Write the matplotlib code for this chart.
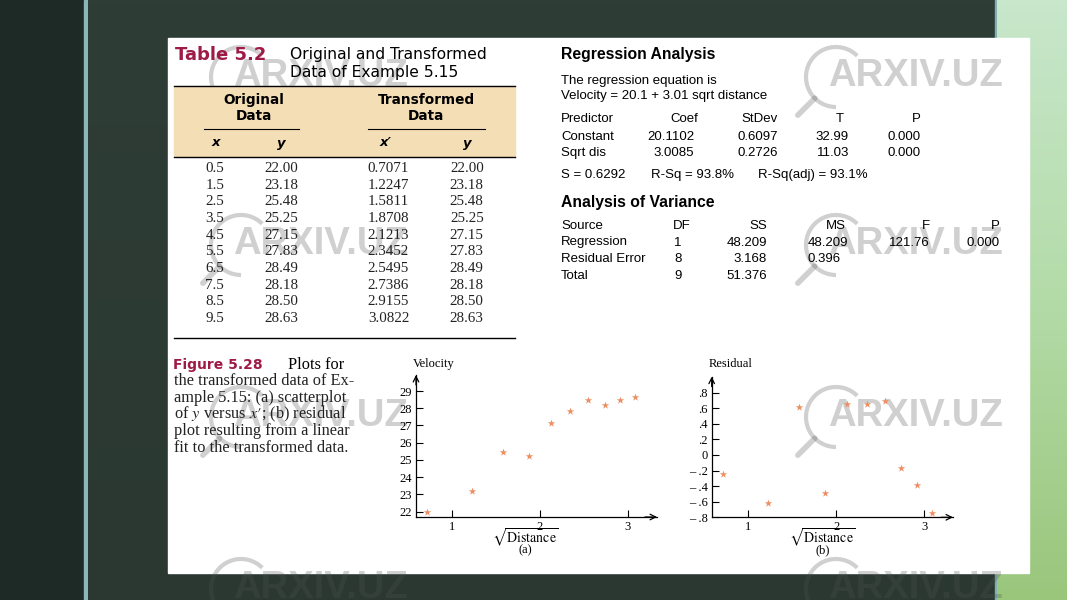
import matplotlib
matplotlib.use('Agg')
import matplotlib.pyplot as plt
import numpy as np
from matplotlib.patches import Rectangle, Arc

plt.rcParams['mathtext.fontset'] = 'stix'

# Table 5.2 data
x_orig = [0.5, 1.5, 2.5, 3.5, 4.5, 5.5, 6.5, 7.5, 8.5, 9.5]
y_vel = [22.00, 23.18, 25.48, 25.25, 27.15, 27.83, 28.49, 28.18, 28.50, 28.63]
x_sqrt = [0.7071, 1.2247, 1.5811, 1.8708, 2.1213, 2.3452, 2.5495, 2.7386, 2.9155, 3.0822]
# residuals (b)
residuals = [-0.24, -0.62, 0.61, -0.49, 0.66, 0.66, 0.69, -0.17, -0.38, -0.75]

# regression output
predictors = ['Constant', 'Sqrt dis']
coef = [20.1102, 3.0085]
stdev = [0.6097, 0.2726]
t_val = [32.99, 11.03]
p_val = [0.000, 0.000]

anova_source = ['Regression', 'Residual Error', 'Total']
anova_df = [1, 8, 9]
anova_ss = [48.209, 3.168, 51.376]
anova_ms = [48.209, 0.396]
anova_f = 121.76
anova_p = 0.000

vel_ticks = [22, 23, 24, 25, 26, 27, 28, 29]
res_ticks = [-0.8, -0.6, -0.4, -0.2, 0, 0.2, 0.4, 0.6, 0.8]
res_labels = ['\u2013 .8', '\u2013 .6', '\u2013 .4', '\u2013 .2', '0', '.2', '.4', '.6', '.8']

W, H = 1067, 600
MAROON = '#9e1a47'
SERIF = 'Liberation Serif'
SANS = 'Liberation Sans'
GEO = 'DejaVu Sans'

fig = plt.figure(figsize=(W / 100, H / 100), dpi=100)
bg = fig.add_axes([0, 0, 1, 1])
bg.axis('off')

# slide background
bg.add_patch(Rectangle((0, 0), 84, H, color='#1e2a26', zorder=0))
bg.add_patch(Rectangle((84, 0), 4, H, color='#8cb7ba', zorder=0))
grad = np.linspace(0, 1, 100).reshape(-1, 1)
dark = matplotlib.colors.LinearSegmentedColormap.from_list('d', ['#2f3d37', '#2b3832'])
bg.imshow(grad, cmap=dark, extent=[88, 995, H, 0], aspect='auto', zorder=0)
bg.add_patch(Rectangle((995, 0), 2, H, color='#7fb0ae', zorder=0))
green = matplotlib.colors.LinearSegmentedColormap.from_list('g', ['#c8e7cb', '#b3dba8', '#9ac67c'])
bg.imshow(grad, cmap=green, extent=[997, W, H, 0], aspect='auto', zorder=0)
bg.set_xlim(0, W)
bg.set_ylim(H, 0)

# white page
bg.add_patch(Rectangle((168, 38), 861, 535, color='white', zorder=1))


def watermark(x, y):
    cx, cy, r = x + 8, y + 1, 30
    col = '#525252'
    a = 0.27
    bg.add_patch(Arc((cx, cy), 2 * r, 2 * r, theta1=90, theta2=315,
                     lw=3, color=col, alpha=a, zorder=2))
    d = np.sqrt(0.5)
    bg.plot([cx - d * r, cx - d * (r + 24)], [cy + d * r, cy + d * (r + 24)],
            lw=4, color=col, alpha=a, solid_capstyle='round', zorder=2)
    bg.text(x, y, 'ARXIV.UZ', family=SANS, weight='bold', fontsize=27.5,
            color=col, alpha=a, ha='left', va='center', zorder=2)


for wy in [76, 244, 416, 588]:
    for wx in [233, 828]:
        watermark(wx, wy)

# ---- table 5.2 ----
bg.text(175, 55, 'Table 5.2', family=GEO, weight='bold', fontsize=13,
        color=MAROON, va='center', zorder=3)
bg.text(290, 55, 'Original and Transformed', family=GEO, fontsize=11.2,
        va='center', zorder=3)
bg.text(290, 72, 'Data of Example 5.15', family=GEO, fontsize=11.2,
        va='center', zorder=3)
bg.add_patch(Rectangle((174, 86), 341, 70, color='#f4deb6', zorder=2))
bg.plot([174, 515], [86, 86], color='k', lw=1, zorder=3)
bg.plot([174, 515], [156.5, 156.5], color='k', lw=1, zorder=3)
bg.plot([174, 515], [337.5, 337.5], color='k', lw=1, zorder=3)
bg.plot([204, 299], [129, 129], color='k', lw=0.8, zorder=3)
bg.plot([368, 485], [129, 129], color='k', lw=0.8, zorder=3)
for cx, lab in [(254, 'Original'), (426, 'Transformed')]:
    bg.text(cx, 100, lab, family=GEO, weight='bold', fontsize=9.8,
            ha='center', va='center', zorder=3)
    bg.text(cx, 116.5, 'Data', family=GEO, weight='bold', fontsize=9.8,
            ha='center', va='center', zorder=3)
for cx, lab in [(216, 'x'), (281, 'y'), (386, 'x\u2032'), (467, 'y')]:
    bg.text(cx, 143, lab, family=GEO, weight='bold', style='italic',
            fontsize=9.5, ha='center', va='center', zorder=3)

for i in range(len(x_orig)):
    ry = 168.5 + i * 16.67
    cells = [f'{x_orig[i]:.1f}', f'{y_vel[i]:.2f}', f'{x_sqrt[i]:.4f}', f'{y_vel[i]:.2f}']
    for cx, s in zip([214.7, 281, 388.5, 466.8], cells):
        bg.text(cx, ry, s, family=SERIF, fontsize=10.8, ha='center',
                va='center', color='#222222', zorder=3)

# ---- caption ----
bg.text(173, 365, 'Figure 5.28', family=GEO, weight='bold', fontsize=10,
        color=MAROON, va='center', zorder=3)
bg.text(288, 365, 'Plots for', family=SERIF, fontsize=11.8, va='center', zorder=3)
cap_lines = ['the transformed data of Ex-', 'ample 5.15: (a) scatterplot',
             "of $y$ versus $x\u2032$; (b) residual", 'plot resulting from a linear',
             'fit to the transformed data.']
for i, s in enumerate(cap_lines):
    bg.text(174, 381 + i * 16.7, s, family=SERIF, fontsize=11.8,
            va='center', color='#222222', zorder=3)

# ---- regression output ----
bg.text(561, 54, 'Regression Analysis', family=SANS, weight='bold',
        fontsize=11.3, va='center', zorder=3)
bg.text(561, 81, 'The regression equation is', family=SANS, fontsize=9.5,
        va='center', zorder=3)
bg.text(561, 96.5, 'Velocity = 20.1 + 3.01 sqrt distance', family=SANS,
        fontsize=9.5, va='center', zorder=3)
hdr = [('Predictor', 561, 'left'), ('Coef', 698, 'right'), ('StDev', 778, 'right'),
       ('T', 844, 'right'), ('P', 921, 'right')]
for s, x, ha in hdr:
    bg.text(x, 119, s, family=SANS, fontsize=9.5, ha=ha, va='center', zorder=3)
for i, name in enumerate(predictors):
    ry = 136.5 + i * 16.5
    bg.text(561, ry, name, family=SANS, fontsize=9.5, va='center', zorder=3)
    vals = [f'{coef[i]:.4f}', f'{stdev[i]:.4f}', f'{t_val[i]:.2f}', f'{p_val[i]:.3f}']
    for x, s in zip([694, 778, 849, 921], vals):
        bg.text(x, ry, s, family=SANS, fontsize=9.5, ha='right', va='center', zorder=3)
bg.text(561, 175, 'S = 0.6292', family=SANS, fontsize=9.5, va='center', zorder=3)
bg.text(651, 175, 'R-Sq = 93.8%', family=SANS, fontsize=9.5, va='center', zorder=3)
bg.text(758, 175, 'R-Sq(adj) = 93.1%', family=SANS, fontsize=9.5, va='center', zorder=3)

bg.text(561, 202, 'Analysis of Variance', family=SANS, weight='bold',
        fontsize=11.3, va='center', zorder=3)
ahdr = [('Source', 561, 'left'), ('DF', 673, 'left'), ('SS', 767, 'right'),
        ('MS', 846, 'right'), ('F', 930, 'right'), ('P', 1000, 'right')]
for s, x, ha in ahdr:
    bg.text(x, 226, s, family=SANS, fontsize=9.5, ha=ha, va='center', zorder=3)
for i, src in enumerate(anova_source):
    ry = 242.5 + i * 16.8
    bg.text(561, ry, src, family=SANS, fontsize=9.5, va='center', zorder=3)
    bg.text(674, ry, str(anova_df[i]), family=SANS, fontsize=9.5, va='center', zorder=3)
    bg.text(767, ry, f'{anova_ss[i]:.3f}', family=SANS, fontsize=9.5,
            ha='right', va='center', zorder=3)
    if i < len(anova_ms):
        bg.text(808, ry, f'{anova_ms[i]:.3f}', family=SANS, fontsize=9.5,
                va='center', zorder=3)
bg.text(930, 242.5, f'{anova_f:.2f}', family=SANS, fontsize=9.5, ha='right',
        va='center', zorder=3)
bg.text(1000, 242.5, f'{anova_p:.3f}', family=SANS, fontsize=9.5, ha='right',
        va='center', zorder=3)


# ---- the two plots ----
def px_rect(l, t, r, b):
    return [l / W, 1 - b / H, (r - l) / W, (b - t) / H]


def style_axes(ax):
    ax.set_facecolor('none')
    for s in ['top', 'right']:
        ax.spines[s].set_visible(False)
    for s in ['left', 'bottom']:
        ax.spines[s].set_linewidth(0.9)
    ax.tick_params(direction='in', length=5, width=0.8, pad=3, labelsize=9)
    for lab in ax.get_xticklabels() + ax.get_yticklabels():
        lab.set_family(SERIF)
    ax.annotate('', xy=(0, 1), xytext=(0, 0.93), xycoords='axes fraction',
                arrowprops=dict(arrowstyle='->', lw=0.9, color='k',
                                shrinkA=0, shrinkB=0))
    ax.annotate('', xy=(1, 0), xytext=(0.95, 0), xycoords='axes fraction',
                arrowprops=dict(arrowstyle='->', lw=0.9, color='k',
                                shrinkA=0, shrinkB=0))


PT = '#ec8f62'

ax1 = fig.add_axes(px_rect(416, 375, 657, 517))
ax1.scatter(x_sqrt, y_vel, marker='*', s=32, color=PT, linewidths=0, zorder=3)
ax1.set_xlim(0.586, 3.334)
ax1.set_ylim(21.69, 29.93)
ax1.set_xticks([1, 2, 3])
ax1.set_yticks(vel_ticks)
style_axes(ax1)
bg.text(413, 364, 'Velocity', family=SERIF, fontsize=9, va='center', zorder=3)
bg.text(525, 538, r'$\sqrt{\mathrm{Distance}}$', family=SERIF, fontsize=10,
        ha='center', va='center', zorder=3)
bg.text(525, 550, '(a)', family=SERIF, fontsize=9, ha='center', va='center', zorder=3)

ax2 = fig.add_axes(px_rect(711.7, 376.7, 953, 517.3))
ax2.scatter(x_sqrt, residuals, marker='*', s=32, color=PT, linewidths=0, zorder=3)
ax2.set_xlim(0.584, 3.326)
ax2.set_ylim(-0.8, 1.005)
ax2.set_xticks([1, 2, 3])
ax2.set_yticks(res_ticks)
ax2.set_yticklabels(res_labels)
style_axes(ax2)
bg.text(709, 364, 'Residual', family=SERIF, fontsize=9, va='center', zorder=3)
bg.text(822.5, 538, r'$\sqrt{\mathrm{Distance}}$', family=SERIF, fontsize=10,
        ha='center', va='center', zorder=3)
bg.text(822.5, 550, '(b)', family=SERIF, fontsize=9, ha='center', va='center', zorder=3)

fig.savefig('out.png', dpi=100)
